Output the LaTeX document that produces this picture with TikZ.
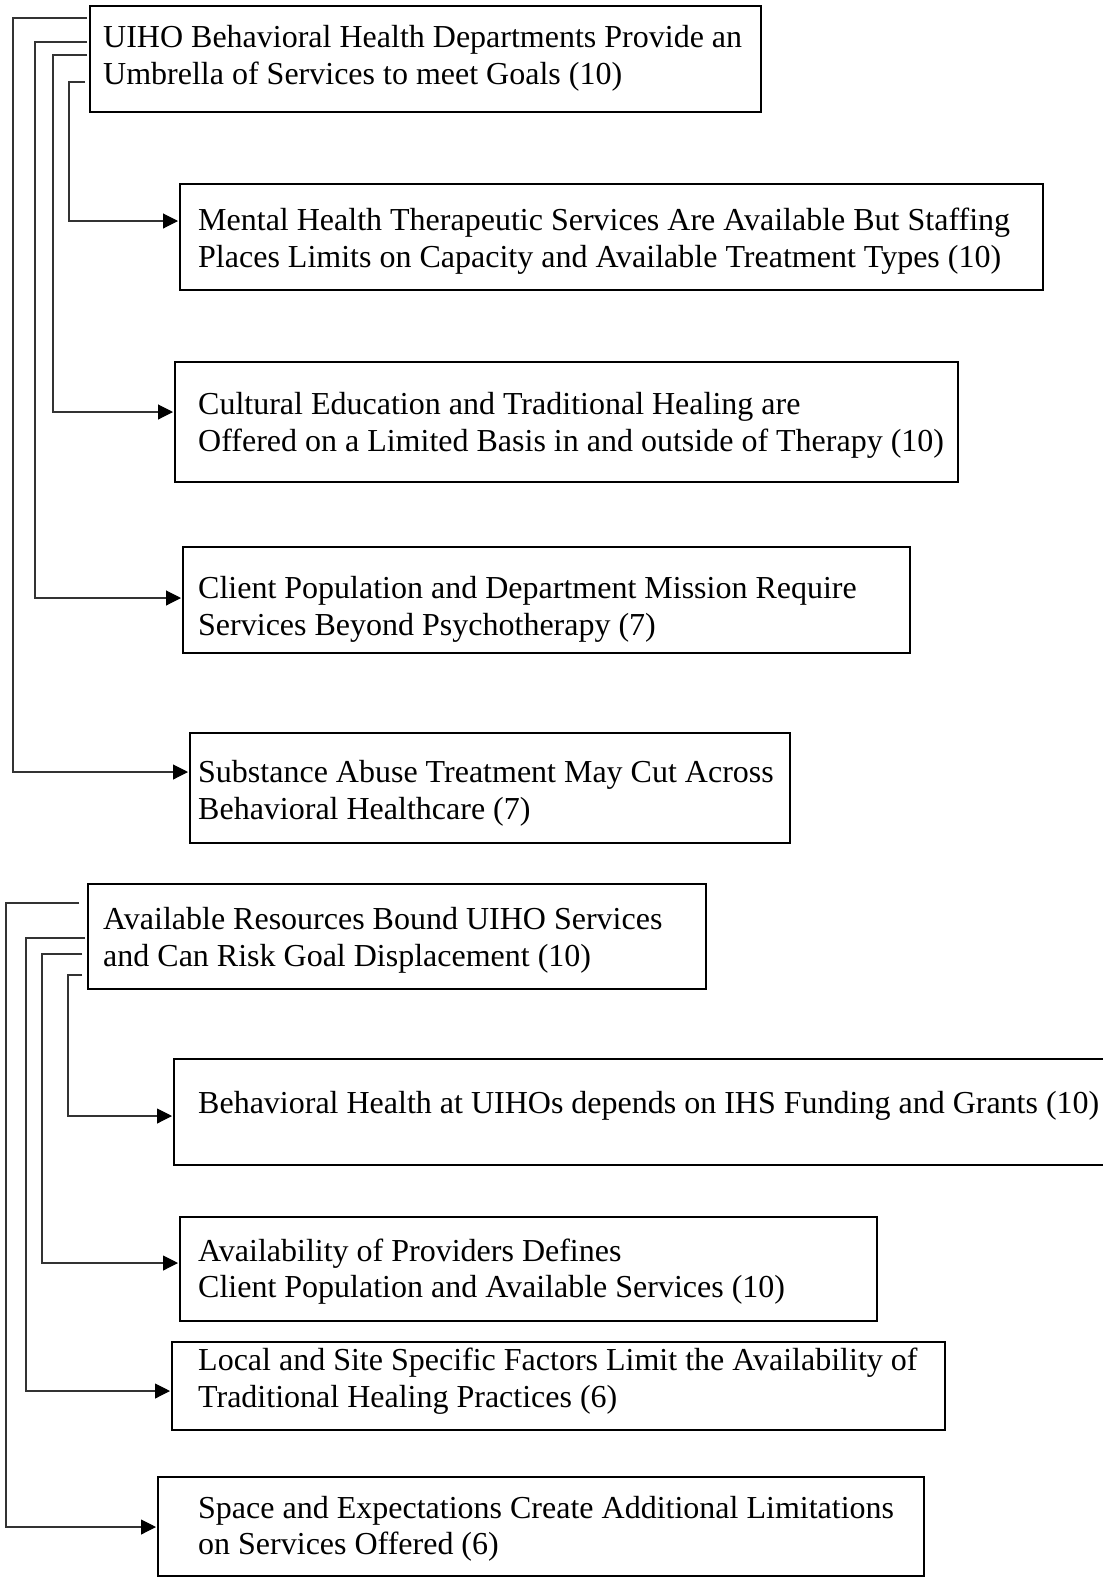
\documentclass[tikz,border=0pt]{standalone}
\usepackage{fontspec}
\setmainfont{Liberation Serif}
\usetikzlibrary{arrows.meta,calc}
\begin{document}
\begin{tikzpicture}[x=1pt,y=-1pt,
 box/.style={draw=black,line width=1.7pt,anchor=north west,inner sep=0pt,outer sep=0pt},
 lbl/.style={anchor=base west,inner sep=0pt,font=\fontsize{32}{37}\selectfont},
 conn/.style={draw=black!80,line width=1.1pt},
 arr/.style={conn,-{Triangle[length=15pt,width=15pt,fill=black,color=black]},shorten >=2pt}]
\useasboundingbox (0,0) rectangle (1103,1577);
\fill[white] (0,0) rectangle (1103,1577);
% boxes
\node[box,minimum width=671pt,minimum height=106pt] (b1) at (90,6) {};
\node[box,minimum width=863pt,minimum height=106pt] (b2) at (180,184) {};
\node[box,minimum width=783pt,minimum height=120pt] (b3) at (175,362) {};
\node[box,minimum width=727pt,minimum height=106pt] (b4) at (183,547) {};
\node[box,minimum width=600pt,minimum height=110pt] (b5) at (190,733) {};
\node[box,minimum width=618pt,minimum height=105pt] (b6) at (88,884) {};
\node[box,draw=none,minimum width=929pt,minimum height=106pt] (b7) at (174,1059) {};
\draw[line width=1.7pt] (b7.north east) -- (b7.north west) -- (b7.south west) -- (b7.south east);
\node[box,minimum width=697pt,minimum height=104pt] (b8) at (180,1217) {};
\node[box,minimum width=773pt,minimum height=88pt] (b9) at (172,1342) {};
\node[box,minimum width=766pt,minimum height=99pt] (b10) at (158,1477) {};
% texts
\node[lbl] (t1a) at (103,47) {UIHO Behavioral Health Departments Provide an};
\node[lbl] (t1b) at (103,84) {Umbrella of Services to meet Goals (10)};
\node[lbl] (t2a) at (198,230) {Mental Health Therapeutic Services Are Available But Staffing};
\node[lbl] (t2b) at (198,267) {Places Limits on Capacity and Available Treatment Types (10)};
\node[lbl] (t3a) at (198,414) {Cultural Education and Traditional Healing are};
\node[lbl] (t3b) at (198,451) {Offered on a Limited Basis in and outside of Therapy (10)};
\node[lbl] (t4a) at (198,598) {Client Population and Department Mission Require};
\node[lbl] (t4b) at (198,635) {Services Beyond Psychotherapy (7)};
\node[lbl] (t5a) at (198,782) {Substance Abuse Treatment May Cut Across};
\node[lbl] (t5b) at (198,819) {Behavioral Healthcare (7)};
\node[lbl] (t6a) at (103,929) {Available Resources Bound UIHO Services};
\node[lbl] (t6b) at (103,966) {and Can Risk Goal Displacement (10)};
\node[lbl] (t7a) at (198,1113) {Behavioral Health at UIHOs depends on IHS Funding and Grants (10)};
\node[lbl] (t8a) at (198,1261) {Availability of Providers Defines};
\node[lbl] (t8b) at (198,1297) {Client Population and Available Services (10)};
\node[lbl] (t9a) at (198,1370) {Local and Site Specific Factors Limit the Availability of};
\node[lbl] (t9b) at (198,1407) {Traditional Healing Practices (6)};
\node[lbl] (t10a) at (198,1518) {Space and Expectations Create Additional Limitations};
\node[lbl] (t10b) at (198,1554) {on Services Offered (6)};
% connector start points
\coordinate (p1) at (87,18);
\coordinate (p2) at (87,42);
\coordinate (p3) at (87,55);
\coordinate (p4) at (85,82);
\coordinate (q1) at (79,903);
\coordinate (q2) at (85,938);
\coordinate (q3) at (82,954);
\coordinate (q4) at (82,975);
% connectors
\draw[arr] (p4) -- (69,82) |- ($(b2.north west)+(0,37)$);
\draw[arr] (p3) -- (53,55) |- ($(b3.north west)+(0,50)$);
\draw[arr] (p2) -- (35,42) |- ($(b4.north west)+(0,51)$);
\draw[arr] (p1) -- (13,18) |- ($(b5.north west)+(0,39)$);
\draw[arr] (q4) -- (68,975) |- ($(b7.north west)+(0,57)$);
\draw[arr] (q3) -- (42,954) |- ($(b8.north west)+(0,46)$);
\draw[arr] (q2) -- (26,938) |- ($(b9.north west)+(0,49)$);
\draw[arr] (q1) -- (6,903) |- ($(b10.north west)+(0,50)$);
\end{tikzpicture}
\end{document}
